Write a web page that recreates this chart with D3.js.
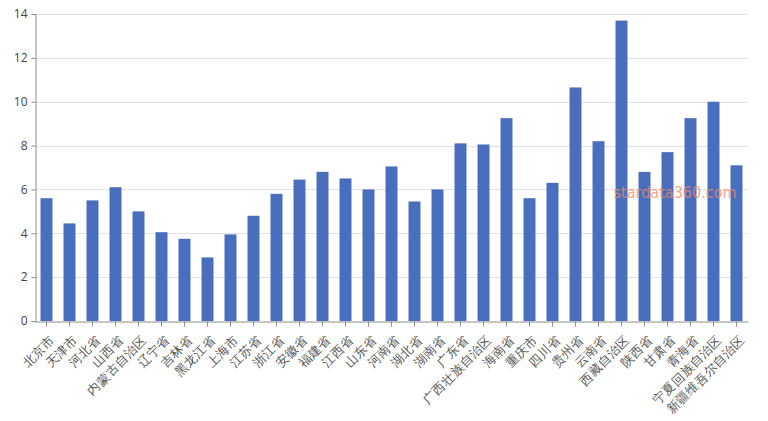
<!DOCTYPE html>
<html><head><meta charset="utf-8">
<script src="https://cdn.jsdelivr.net/npm/d3@7"></script>
<style>body{margin:0;background:#fff;}svg{display:block;font-family:"Noto Sans CJK SC","Noto Sans",sans-serif;}</style>
</head><body><svg id="c" width="768" height="421"></svg>
<script>
const categories = ["北京市","天津市","河北省","山西省","内蒙古自治区","辽宁省","吉林省","黑龙江省","上海市","江苏省","浙江省","安徽省","福建省","江西省","山东省","河南省","湖北省","湖南省","广东省","广西壮族自治区","海南省","重庆市","四川省","贵州省","云南省","西藏自治区","陕西省","甘肃省","青海省","宁夏回族自治区","新疆维吾尔自治区"];
const values = [5.6,4.45,5.5,6.1,5.0,4.05,3.75,2.9,3.95,4.8,5.8,6.45,6.8,6.5,6.0,7.05,5.45,6.0,8.1,8.05,9.25,5.6,6.3,10.65,8.2,13.7,6.8,7.7,9.25,10.0,7.1];
const yTicks = [0,2,4,6,8,10,12,14];
const watermark = "stardata360.com";

const svg = d3.select("#c");
const m = {l:35, r:20, t:14, b:100};
const W = 768, H = 421;
const x = d3.scaleBand().domain(categories).range([m.l, W - m.r]).paddingInner(0.48).paddingOuter(0.24);
const y = d3.scaleLinear().domain([0,14]).range([H - m.b, m.t]);

// gridlines
svg.append("g").selectAll("line").data(yTicks.filter(d=>d>0)).join("line")
  .attr("x1", m.l).attr("x2", W - m.r)
  .attr("y1", d=>Math.round(y(d))+0.5).attr("y2", d=>Math.round(y(d))+0.5)
  .attr("stroke", "#e3e3e3").attr("stroke-width", 1);

// bars
svg.append("g").selectAll("rect").data(values).join("rect")
  .attr("x", (d,i)=>x(categories[i]))
  .attr("width", x.bandwidth())
  .attr("y", d=>y(d))
  .attr("height", d=>y(0)-y(d))
  .attr("fill", "#4a6ebe");

// y axis
const ya = svg.append("g").attr("transform", `translate(${m.l+0.5},0)`)
  .call(d3.axisLeft(y).tickValues(yTicks).tickSize(4).tickPadding(4));
ya.select(".domain").attr("stroke", "#8c8c8c");
ya.selectAll(".tick line").attr("stroke", "#8c8c8c");
ya.selectAll("text").attr("fill", "#444").attr("font-size", 12).attr("font-family","\"Open Sans\",sans-serif");

// x axis
const xa = svg.append("g").attr("transform", `translate(0,${Math.round(y(0))+0.5})`)
  .call(d3.axisBottom(x).tickSize(5).tickSizeOuter(0));
xa.select(".domain").attr("stroke", "#8c8c8c");
xa.selectAll(".tick line").attr("stroke", "#8c8c8c");
xa.selectAll("text").attr("fill", "#555").attr("font-size", 12.5)
  .attr("text-anchor","end").attr("dy", "0.35em")
  .attr("transform", "translate(6,16) rotate(-45)")
  .attr("y", 0).attr("x", 0);

// watermark
svg.append("text").attr("x", 675).attr("y", 198).attr("text-anchor","middle")
  .attr("font-size", 16).attr("font-family","\"DejaVu Sans\",sans-serif")
  .attr("textLength", 123).attr("lengthAdjust","spacingAndGlyphs")
  .attr("fill", "#f5875f").attr("opacity", 0.75).text(watermark);
</script></body></html>
